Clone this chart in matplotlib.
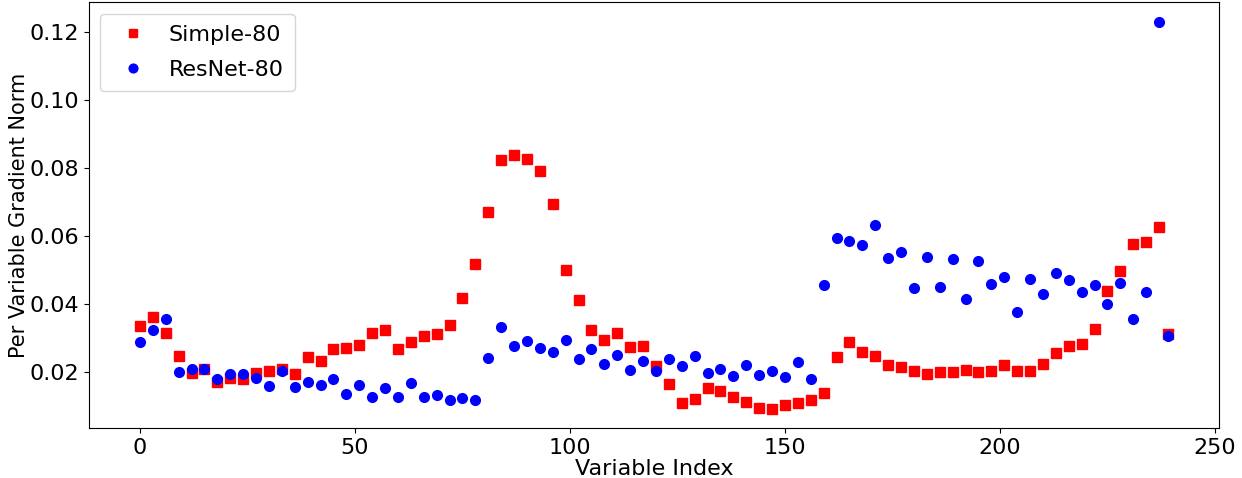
import numpy as np
import matplotlib
matplotlib.use('Agg')
import matplotlib.pyplot as plt

# indices de variables (cada 3, mas la ultima)
indices = list(range(0, 238, 3)) + [239]

simple_80 = [
    0.0336, 0.0362, 0.0315, 0.0245, 0.0196, 0.0209, 0.0171, 0.0181, 0.0177, 0.0197,
    0.0201, 0.0208, 0.0193, 0.0243, 0.0232, 0.0266, 0.0269, 0.0280, 0.0314, 0.0322,
    0.0267, 0.0288, 0.0304, 0.0312, 0.0339, 0.0417, 0.0516, 0.0671, 0.0823, 0.0839,
    0.0826, 0.0791, 0.0694, 0.0500, 0.0410, 0.0324, 0.0294, 0.0313, 0.0274, 0.0276,
    0.0218, 0.0164, 0.0108, 0.0119, 0.0151, 0.0143, 0.0124, 0.0110, 0.0092, 0.0091,
    0.0101, 0.0107, 0.0117, 0.0138, 0.0244, 0.0286, 0.0259, 0.0246, 0.0220, 0.0213,
    0.0203, 0.0193, 0.0200, 0.0200, 0.0204, 0.0198, 0.0202, 0.0219, 0.0202, 0.0202,
    0.0224, 0.0255, 0.0276, 0.0281, 0.0326, 0.0439, 0.0498, 0.0576, 0.0581, 0.0626,
    0.0311,
]

resnet_80 = [
    0.0286, 0.0324, 0.0354, 0.0199, 0.0209, 0.0208, 0.0178, 0.0194, 0.0193, 0.0181,
    0.0157, 0.0201, 0.0154, 0.0170, 0.0162, 0.0177, 0.0135, 0.0160, 0.0124, 0.0152,
    0.0124, 0.0166, 0.0126, 0.0131, 0.0117, 0.0123, 0.0116, 0.0239, 0.0333, 0.0277,
    0.0289, 0.0269, 0.0259, 0.0293, 0.0238, 0.0267, 0.0224, 0.0248, 0.0204, 0.0231,
    0.0201, 0.0236, 0.0217, 0.0247, 0.0196, 0.0208, 0.0187, 0.0221, 0.0189, 0.0202,
    0.0184, 0.0229, 0.0177, 0.0454, 0.0595, 0.0584, 0.0574, 0.0633, 0.0536, 0.0554,
    0.0447, 0.0538, 0.0449, 0.0533, 0.0414, 0.0526, 0.0458, 0.0480, 0.0377, 0.0473,
    0.0429, 0.0492, 0.0471, 0.0435, 0.0454, 0.0399, 0.0462, 0.0356, 0.0436, 0.1231,
    0.0305,
]

fig = plt.figure(figsize=(12.42, 4.78), dpi=100)
ax = fig.add_axes([0.0713, 0.1046, 0.9102, 0.8902])

ax.plot(indices, simple_80, 's', color='red', markersize=7, label='Simple-80')
ax.plot(indices, resnet_80, 'o', color='blue', markersize=7, label='ResNet-80')

ax.set_xlabel('Variable Index', fontsize=16, labelpad=1)
ax.set_ylabel('Per Variable Gradient Norm', fontsize=15, labelpad=0)
ax.tick_params(labelsize=16)
ax.legend(fontsize=16, loc='upper left', labelspacing=0.7, borderpad=0.5,
          handletextpad=0.6, markerscale=0.9)

fig.savefig('out.png', dpi=100)
